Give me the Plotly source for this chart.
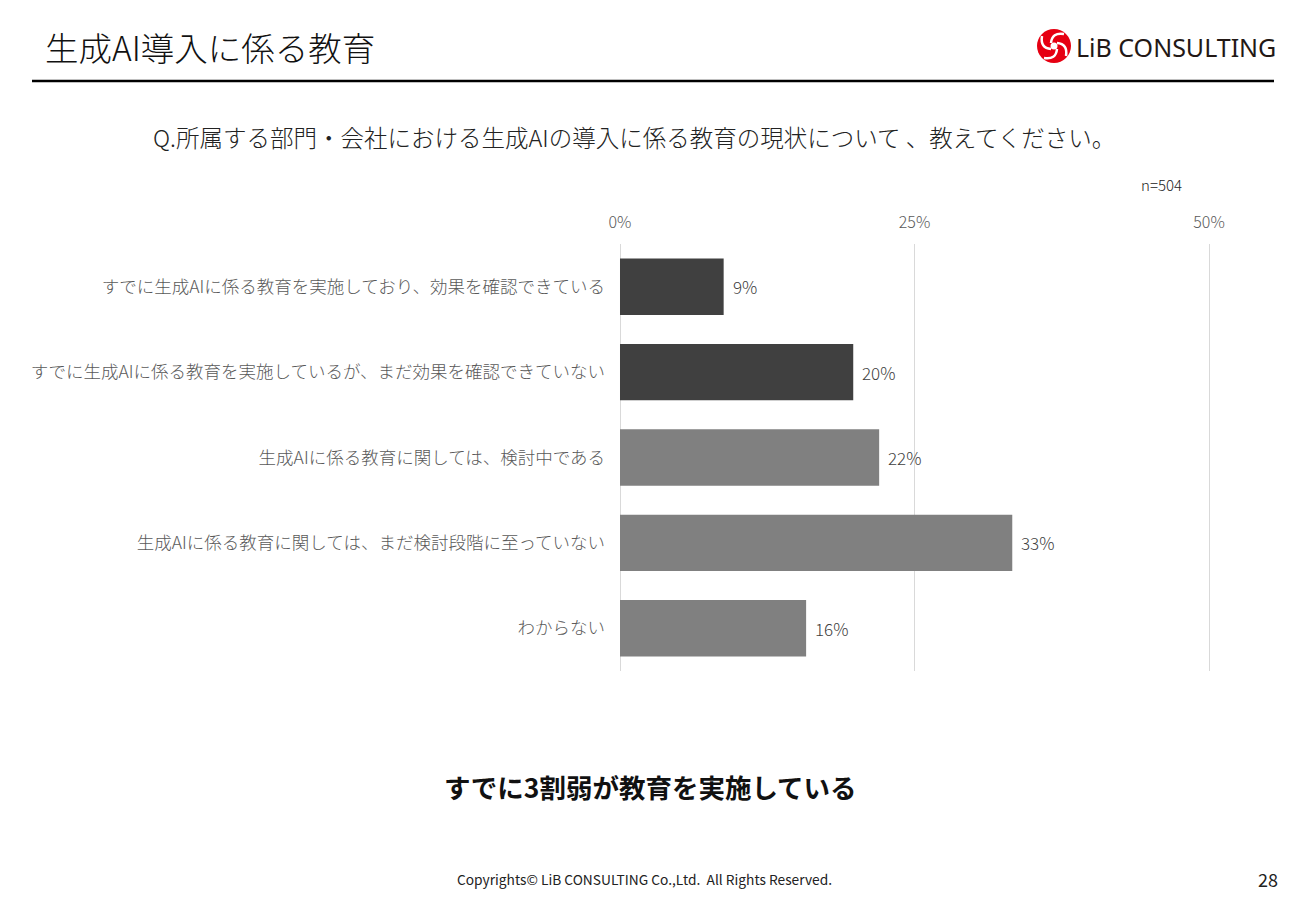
import plotly.graph_objects as go

categories = [
    "すでに生成AIに係る教育を実施しており、効果を確認できている",
    "すでに生成AIに係る教育を実施しているが、まだ効果を確認できていない",
    "生成AIに係る教育に関しては、検討中である",
    "生成AIに係る教育に関しては、まだ検討段階に至っていない",
    "わからない",
]
values = [0.088, 0.198, 0.220, 0.333, 0.158]
labels = ["9%", "20%", "22%", "33%", "16%"]
bar_colors = ["#404040", "#404040", "#808080", "#808080", "#808080"]
tick_vals = [0, 0.25, 0.5]
tick_text = ["0%", "25%", "50%"]

FONT = "Noto Sans CJK JP"
W, H = 1300, 900

fig = go.Figure()
fig.add_trace(go.Bar(
    y=categories, x=values, orientation="h",
    marker=dict(color=bar_colors, line=dict(width=0)),
    width=0.66, hoverinfo="skip",
))

for c, v, t in zip(categories, values, labels):
    fig.add_annotation(x=v, y=c, xref="x", yref="y", text=t, showarrow=False,
                       xanchor="left", yanchor="middle", xshift=7,
                       font=dict(family=FONT, size=17, color="#404040", weight=300))

# x axis: 0..0.5 spans 620..1209 px; pad the range a little so edge gridlines show
pad = 0.005
ppu = (1209 - 620) / 0.5
fig.update_layout(
    width=W, height=H,
    margin=dict(l=0, r=0, t=0, b=0, autoexpand=False),
    paper_bgcolor="white", plot_bgcolor="white",
    showlegend=False,
    font=dict(family=FONT),
    xaxis=dict(
        domain=[(620 - pad * ppu) / W, (1209 + pad * ppu) / W], range=[-pad, 0.5 + pad], side="top",
        tickvals=tick_vals, ticktext=tick_text, automargin=False,
        showgrid=True, gridcolor="#d9d9d9", gridwidth=1,
        zeroline=False, showline=False, ticks="",
        tickfont=dict(family=FONT, size=16, color="#595959", weight=300),
        ticklabelstandoff=12, fixedrange=True,
    ),
    yaxis=dict(
        domain=[1 - 671 / H, 1 - 244 / H], automargin=False,
        categoryorder="array", categoryarray=categories,
        autorange=False, range=[4.5, -0.5],
        showgrid=False, zeroline=False, showline=False, ticks="",
        tickfont=dict(family=FONT, size=17.5, color="#595959", weight=300),
        ticklabelstandoff=8, fixedrange=True,
    ),
)


def px_x(x):
    return x / W


def px_y(y):
    return 1 - y / H


# Title and rule
fig.add_annotation(x=px_x(43), y=px_y(46), xref="paper", yref="paper", text="生成AI導入に係る教育",
                   showarrow=False, xanchor="left", yanchor="middle",
                   font=dict(family=FONT, size=33.5, color="#111111", weight=300))
fig.add_shape(type="line", xref="paper", yref="paper", x0=px_x(32), x1=px_x(1274), y0=px_y(81), y1=px_y(81),
              line=dict(color="#000000", width=2.5))

# Logo
cx, cy, r = 1054, 46, 17
fig.add_shape(type="circle", xref="paper", yref="paper",
              x0=px_x(cx - r), x1=px_x(cx + r), y0=px_y(cy + r), y1=px_y(cy - r),
              fillcolor="#e60012", line=dict(width=0))


def pth(pts):
    (x0, y0), (qx, qy), (x1, y1) = pts
    return (f"M {px_x(x0)},{px_y(y0)} Q {px_x(qx)},{px_y(qy)} {px_x(x1)},{px_y(y1)}")


for pts in [
    [(cx - 3, cy - 3), (cx - 2, cy - 14), (cx + 10, cy - 12)],
    [(cx + 3, cy - 3), (cx + 14, cy - 2), (cx + 12, cy + 10)],
    [(cx + 3, cy + 3), (cx + 2, cy + 14), (cx - 10, cy + 12)],
    [(cx - 3, cy + 3), (cx - 14, cy + 2), (cx - 12, cy - 10)],
]:
    fig.add_shape(type="path", xref="paper", yref="paper", path=pth(pts),
                  line=dict(color="white", width=2.5))
fig.add_shape(type="circle", xref="paper", yref="paper",
              x0=px_x(cx - 3.5), x1=px_x(cx + 3.5), y0=px_y(cy + 3.5), y1=px_y(cy - 3.5),
              fillcolor="white", line=dict(width=0))
fig.add_annotation(x=px_x(1074), y=px_y(47), xref="paper", yref="paper", text="LiB CONSULTING",
                   showarrow=False, xanchor="left", yanchor="middle",
                   font=dict(family="Noto Sans", size=25, color="#231815"))

# Question
fig.add_annotation(x=px_x(634), y=px_y(137), xref="paper", yref="paper",
                   text="Q.所属する部門・会社における生成AIの導入に係る教育の現状について 、教えてください。",
                   showarrow=False, xanchor="center", yanchor="middle",
                   font=dict(family=FONT, size=23.5, color="#222222", weight=300))
fig.add_annotation(x=px_x(1184), y=px_y(184), xref="paper", yref="paper", text="n=504",
                   showarrow=False, xanchor="right", yanchor="middle",
                   font=dict(family=FONT, size=15, color="#222222", weight=300))

# Conclusion
fig.add_annotation(x=px_x(650), y=px_y(786), xref="paper", yref="paper",
                   text="<b>すでに3割弱が教育を実施している</b>",
                   showarrow=False, xanchor="center", yanchor="middle",
                   font=dict(family=FONT, size=26.5, color="#111111"))

# Footer
fig.add_annotation(x=px_x(644), y=px_y(879), xref="paper", yref="paper",
                   text="Copyrights© LiB CONSULTING Co.,Ltd.  All Rights Reserved.",
                   showarrow=False, xanchor="center", yanchor="middle",
                   font=dict(family=FONT, size=13.75, color="#222222"))
fig.add_annotation(x=px_x(1280), y=px_y(879), xref="paper", yref="paper", text="28",
                   showarrow=False, xanchor="right", yanchor="middle",
                   font=dict(family=FONT, size=18, color="#222222"))

fig.write_html("out.html")
